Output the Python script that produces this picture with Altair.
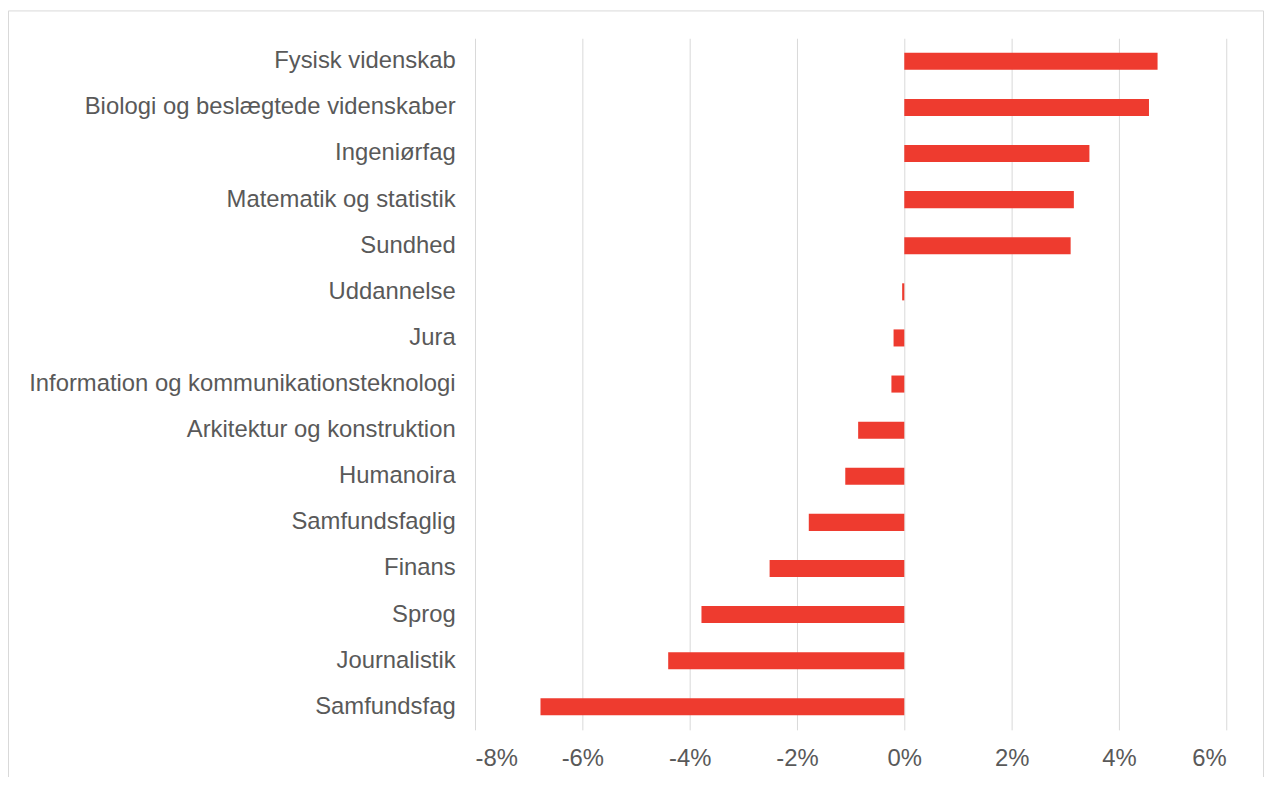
import altair as alt
import pandas as pd

categories = [
    "Fysisk videnskab",
    "Biologi og beslægtede videnskaber",
    "Ingeniørfag",
    "Matematik og statistik",
    "Sundhed",
    "Uddannelse",
    "Jura",
    "Information og kommunikationsteknologi",
    "Arkitektur og konstruktion",
    "Humanoira",
    "Samfundsfaglig",
    "Finans",
    "Sprog",
    "Journalistik",
    "Samfundsfag",
]
values = [0.0472, 0.0456, 0.0345, 0.0316, 0.0310, -0.0004, -0.0020, -0.0024,
          -0.0086, -0.0110, -0.0178, -0.0251, -0.0378, -0.0440, -0.0678]
x_ticks = [-0.08, -0.06, -0.04, -0.02, 0.0, 0.02, 0.04, 0.06]

df = pd.DataFrame({"kategori": categories, "vaerdi": values})

W, H = 756, 696
PAD_L, PAD_T, PAD_R, PAD_B = 470, 28, 39, 45

bars = alt.Chart(df).mark_bar(color="#EE3B2F").encode(
    x=alt.X("vaerdi:Q",
            scale=alt.Scale(domain=[-0.08, 0.06], nice=False, zero=False),
            axis=alt.Axis(values=x_ticks, title=None, grid=True, gridColor="#D9D9D9",
                          gridWidth=1, domain=False, ticks=False,
                          labelExpr="toString(round(datum.value*100)) + '%'",
                          labelFont="Liberation Sans", labelFontSize=24,
                          labelColor="#595959", labelPadding=17)),
    y=alt.Y("kategori:N", sort=categories,
            scale=alt.Scale(paddingInner=0.63, paddingOuter=0.315),
            axis=alt.Axis(title=None, domain=False, ticks=False, grid=False,
                          labelFont="Liberation Sans", labelFontSize=24,
                          labelColor="#595959", labelPadding=20, labelLimit=700)),
)

border = alt.Chart(alt.Data(values=[{}])).mark_rect(
    fill=None, stroke="#D9D9D9", strokeWidth=1, clip=False
).encode(
    x=alt.value(-PAD_L + 0.5),
    x2=alt.value(W + PAD_R - 1.5),
    y=alt.value(-PAD_T + 0.5),
    y2=alt.value(H + PAD_B + 40),
)

chart = alt.layer(bars, border).properties(
    width=W, height=H,
    background="white",
    autosize=alt.AutoSizeParams(type="none"),
    padding={"left": PAD_L, "top": PAD_T, "right": PAD_R, "bottom": PAD_B},
).configure_view(strokeWidth=0)

chart.save("out.html", embed_options={"renderer": "svg", "actions": False})
